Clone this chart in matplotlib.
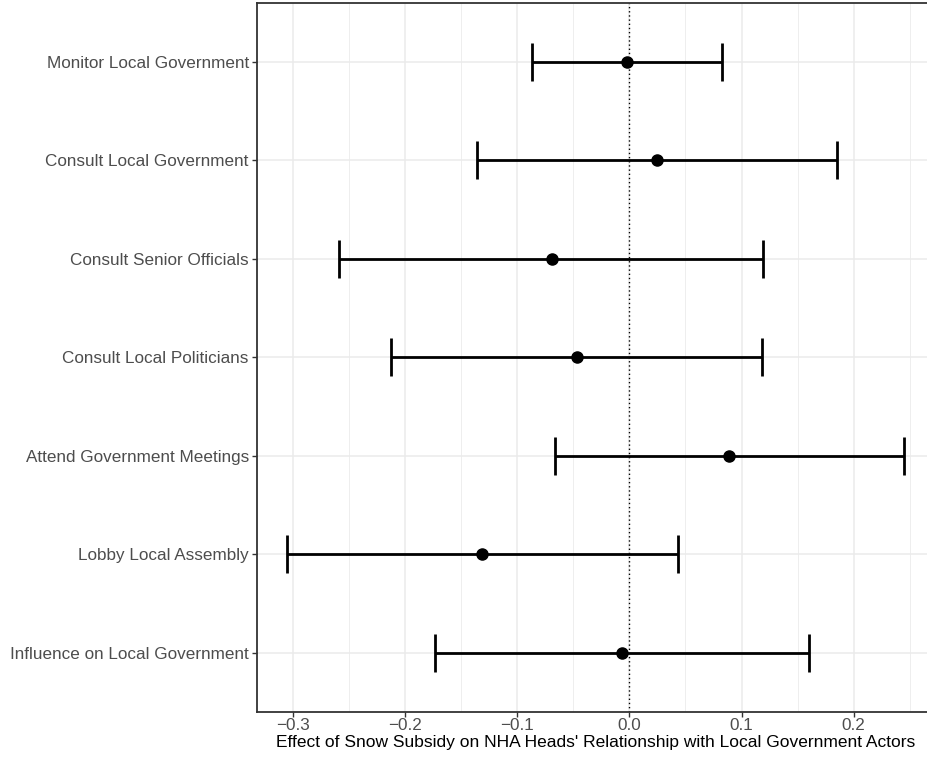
import matplotlib.pyplot as plt
import numpy as np
from matplotlib.ticker import MultipleLocator

plt.rcParams['font.family'] = ['Liberation Sans', 'DejaVu Sans']

# outcomes, bottom to top
labels = ["Influence on Local Government", "Lobby Local Assembly",
          "Attend Government Meetings", "Consult Local Politicians",
          "Consult Senior Officials", "Consult Local Government",
          "Monitor Local Government"]
est = [-0.007, -0.131, 0.089, -0.047, -0.069, 0.025, -0.002]
lo = [-0.173, -0.305, -0.066, -0.213, -0.259, -0.136, -0.087]
hi = [0.160, 0.043, 0.245, 0.118, 0.119, 0.185, 0.083]

W, H = 927, 758
fig = plt.figure(figsize=(W/100, H/100), dpi=100)
# panel runs past the right edge in the reference (cropped)
left, right, top, bot = 256.5, 935, 2.7, 712
ax = fig.add_axes([left/W, (H-bot)/H, (right-left)/W, (bot-top)/H])

y = np.arange(1, len(labels)+1)
est = np.array(est); lo = np.array(lo); hi = np.array(hi)

ax.axvline(0, color='black', ls=(0, (1, 2)), lw=1.0, zorder=2)
ax.errorbar(est, y, xerr=[est-lo, hi-est], fmt='none', ecolor='black',
            elinewidth=2.0, capsize=13.9, capthick=2.0, zorder=3)
ax.plot(est, y, 'o', color='black', ms=8, zorder=4)

xmin, xmax = lo.min(), hi.max()
pad = (xmax-xmin)*0.05
ax.set_xlim(xmin-pad, xmax+pad)
ax.set_ylim(0.4, len(labels)+0.6)

ax.xaxis.set_major_locator(MultipleLocator(0.1))
ax.xaxis.set_minor_locator(MultipleLocator(0.05))
ax.set_yticks(y)
ax.set_yticklabels(labels)
ax.set_xticks(np.arange(-0.3, 0.21, 0.1))
ax.set_xticklabels(["\u22120.3", "\u22120.2", "\u22120.1", "0.0", "0.1", "0.2"])

ax.grid(which='major', color='#EBEBEB', lw=1.1, zorder=0)
ax.grid(which='minor', axis='x', color='#EBEBEB', lw=0.6, zorder=0)
ax.set_axisbelow(True)

for s in ax.spines.values():
    s.set_color('#333333')
    s.set_linewidth(1.3)

ax.tick_params(axis='both', which='major', length=3.5, width=1.0, color='#333333',
               labelcolor='#4D4D4D', labelsize=12.3, pad=2)
ax.tick_params(axis='x', which='major', pad=0.5)
ax.tick_params(axis='both', which='minor', length=0)

ax.set_xlabel("Effect of Snow Subsidy on NHA Heads' Relationship with Local Government Actors",
              fontsize=12.5, color='black', labelpad=1.5)

fig.savefig("out.png", dpi=100)
